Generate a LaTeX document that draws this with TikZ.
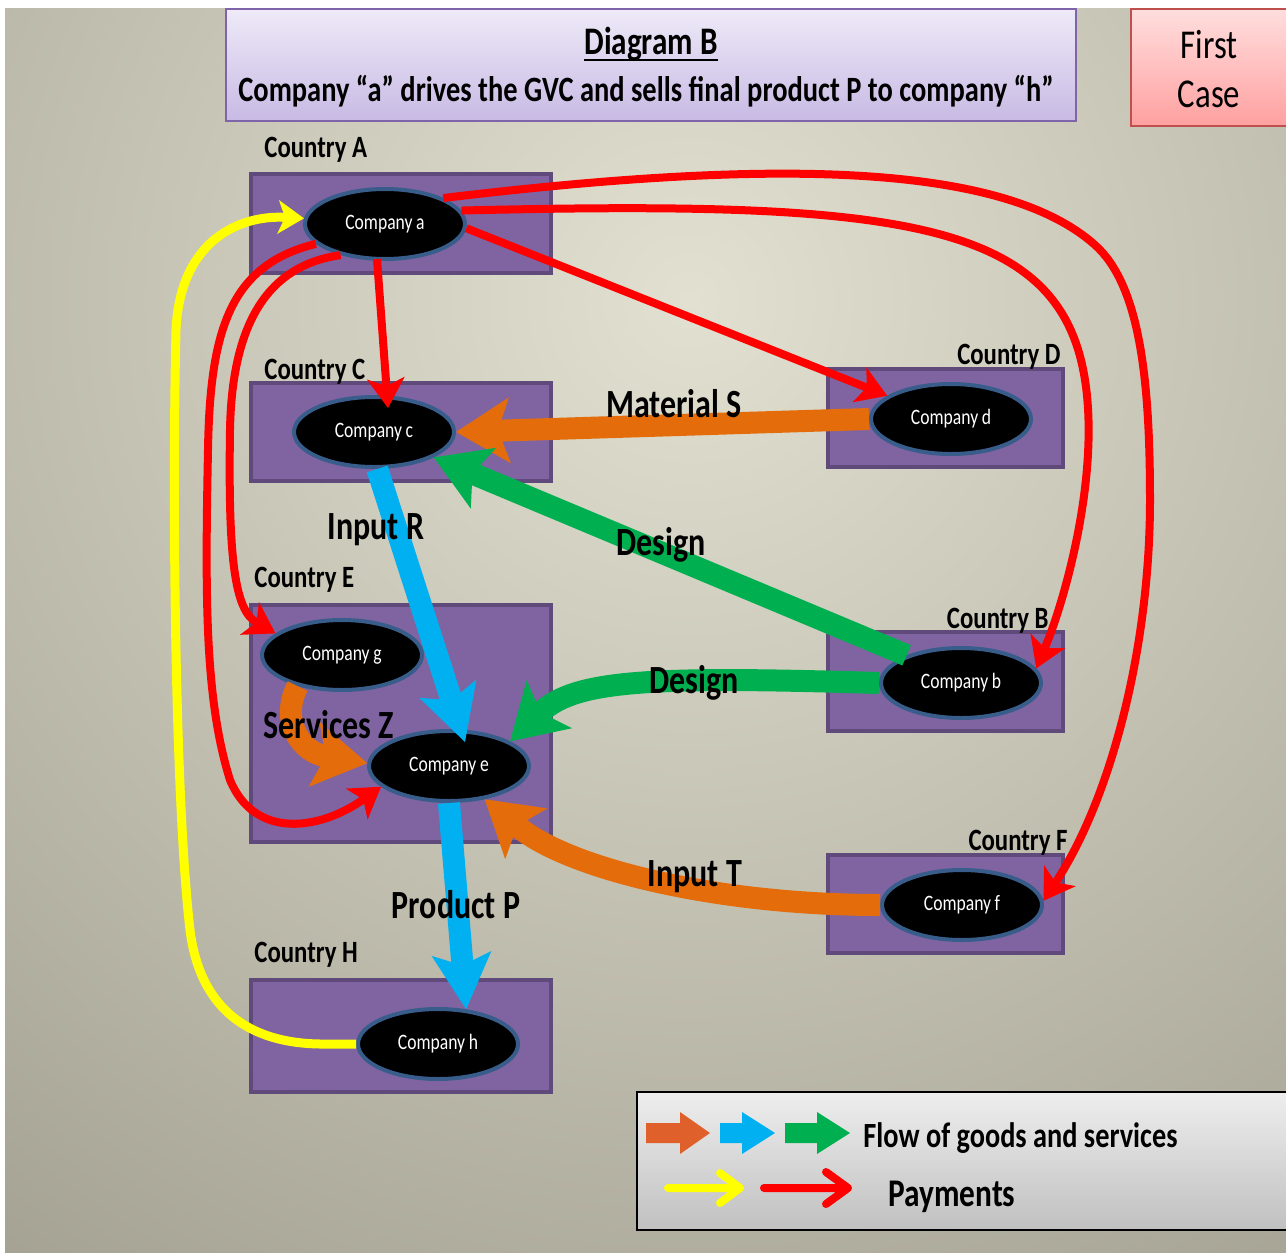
\documentclass[tikz,border=0pt]{standalone}
\usepackage{fontspec}
\setmainfont{Carlito}[FakeStretch=0.8]
\usetikzlibrary{arrows.meta,shapes.geometric,calc}

\definecolor{bglight}{RGB}{226,224,208}
\definecolor{bgdark}{RGB}{112,109,94}
\definecolor{boxfill}{RGB}{128,100,162}
\definecolor{boxline}{RGB}{96,74,123}
\definecolor{ringline}{RGB}{56,93,138}
\definecolor{flowor}{RGB}{228,108,10}
\definecolor{legor}{RGB}{224,96,44}
\definecolor{flowbl}{RGB}{0,176,240}
\definecolor{flowgr}{RGB}{0,176,80}
\definecolor{payred}{RGB}{255,0,0}
\definecolor{payyel}{RGB}{255,255,0}
\definecolor{ttltop}{RGB}{238,234,248}
\definecolor{ttlbot}{RGB}{200,186,228}
\definecolor{ttlline}{RGB}{128,100,170}
\definecolor{casetop}{RGB}{255,222,222}
\definecolor{casebot}{RGB}{255,160,160}
\definecolor{caseline}{RGB}{192,80,77}
\definecolor{legtop}{RGB}{238,238,238}
\definecolor{legbot}{RGB}{192,192,192}

\begin{document}
\begin{tikzpicture}[x=0.5pt,y=-0.5pt,
  country/.style={draw=boxline, line width=2pt, fill=boxfill},
  firm/.style={ellipse, draw=ringline, line width=2pt, fill=black,
    minimum width=80pt, minimum height=35pt, inner sep=0pt, text=white,
    font=\fontsize{11}{13}\selectfont, execute at begin node={\spaceskip=1.8pt\relax}},
  ctry/.style={font=\bfseries\fontsize{15.5}{18}\selectfont, inner sep=0pt},
  flowlabel/.style={font=\bfseries\fontsize{20}{24}\selectfont, inner sep=0pt},
  flowo/.style={draw=flowor, line width=11pt,
    -{Stealth[length=27pt,width=33pt,inset=6pt,line width=0pt,fill=flowor]}},
  flowb/.style={draw=flowbl, line width=11pt,
    -{Stealth[length=28pt,width=30pt,inset=6pt,line width=0pt,fill=flowbl]}},
  flowg/.style={draw=flowgr, line width=11pt,
    -{Stealth[length=27pt,width=33pt,inset=6pt,line width=0pt,fill=flowgr]}},
  pay/.style={draw=payred, line width=4pt,
    -{Stealth[length=15pt,width=19pt,inset=4pt,line width=0pt,fill=payred]}},
  payy/.style={draw=payyel, line width=4.5pt,
    -{Stealth[length=13pt,width=17pt,inset=3.5pt,line width=0pt,fill=payyel]}},
]
\useasboundingbox (0,0) rectangle (1286,1253);

% backdrop
\fill[white] (0,0) rectangle (1286,1253);
\begin{scope}
  \clip (5,8) rectangle (1286,1253);
  \shade[inner color=bglight, outer color=bgdark] (690,300) circle[radius=2200];
\end{scope}

% heading panels
\path[draw=ttlline, line width=1pt, top color=ttltop, bottom color=ttlbot]
  (226,9) rectangle (1076,121);
\node[font=\bfseries\fontsize{19.5}{22}\selectfont, inner sep=0pt] (dgm) at (651,44) {Diagram B};
\draw[line width=1pt] ($(dgm.base west)+(0,6)$) -- ($(dgm.base east)+(0,6)$);
\node[font=\bfseries\fontsize{17.8}{21}\selectfont, inner sep=0pt] (sub) at (646,91)
  {Company “a” drives the GVC and sells final product P to company “h”};

\path[draw=caseline, line width=1pt, top color=casetop, bottom color=casebot]
  (1131,9) rectangle (1292,126);
\node[font=\fontsize{20.5}{24}\selectfont, inner sep=0pt] (first) at (1209,45) {First};
\node[font=\fontsize{20.5}{24}\selectfont, inner sep=0pt] (case) at (1209,94) {Case};

% countries
\draw[country] (251,174) rectangle (551,273);
\draw[country] (251,383) rectangle (551,481);
\draw[country] (828,369) rectangle (1063,467);
\draw[country] (251,605) rectangle (551,842);
\draw[country] (828,632) rectangle (1063,731);
\draw[country] (828,855) rectangle (1063,953);
\draw[country] (251,980) rectangle (551,1092);

\node[ctry, anchor=west] (lA) at (264,150) {Country A};
\node[ctry, anchor=west] (lC) at (264,372) {Country C};
\node[ctry, anchor=east] (lD) at (1061,357) {Country D};
\node[ctry, anchor=west] (lE) at (254,580) {Country E};
\node[ctry, anchor=east] (lB) at (1049,621) {Country B};
\node[ctry, anchor=east] (lF) at (1068,843) {Country F};
\node[ctry, anchor=west] (lH) at (254,955) {Country H};

% companies
\node[firm] (a) at (385,224) {Company a};
\node[firm] (c) at (374,432) {Company c};
\node[firm] (d) at (951,419) {Company d};
\node[firm] (g) at (342,655) {Company g};
\node[firm] (e) at (449,766) {Company e};
\node[firm] (b) at (961,683) {Company b};
\node[firm] (f) at (962,905) {Company f};
\node[firm] (h) at (438,1044) {Company h};

% payments
\draw[payy] (h.west) -- (320,1044) .. controls (250,1043) and (200,1010) .. (190,930)
  .. controls (175,800) and (172,500) .. (176,330) .. controls (180,240) and (240,215) .. (a.176);
\draw[pay] (a.-3) -- (d.160);
\draw[pay] ($(a)+(-8,35)$) -- ($(c)+(14,-24)$);
\draw[pay] (a.10) .. controls (900,200) and (1060,220) .. (1085,380)
  .. controls (1100,476) and (1065,600) .. (b.11);
\draw[pay] (a.24) .. controls (760,160) and (1000,160) .. (1095,245)
  .. controls (1140,285) and (1150,380) .. (1150,500)
  .. controls (1150,650) and (1110,800) .. (f.3);
\draw[pay] (a.196) .. controls (230,265) and (210,330) .. (208,450)
  .. controls (205,600) and (205,700) .. (230,780) .. controls (255,840) and (320,830) .. (e.197);
\draw[pay] (a.215) .. controls (270,265) and (232,320) .. (230,430)
  .. controls (228,560) and (235,610) .. (g.162);

% goods and services
\draw[flowo] (d.west) -- (c.east);
\draw[flowb] (c.-85) -- ($(e)+(16,-24)$);
\draw[flowb] (e.south) -- (h.51);
\draw[flowg] (b.153) -- (c.-23);
\draw[flowg] (b.west) .. controls (650,676) and (575,680) .. (e.22);
\draw[flowo] (f.west) .. controls (720,905) and (570,870) .. (e.-43);
\draw[flowo] (g.-145) .. controls (280,720) and (300,752) .. (e.178);

\node[flowlabel] (mS) at (674,404) {Material S};
\node[flowlabel] (iR) at (376,530) {Input R};
\node[flowlabel] (dU) at (661,545) {Design};
\node[flowlabel] (dL) at (694,683) {Design};
\node[flowlabel] (sZ) at (329,725) {Services Z};
\node[flowlabel] (iT) at (695,877) {Input T};
\node[flowlabel] (pP) at (456,905) {Product P};

% key
\path[draw=black, line width=1pt, top color=legtop, bottom color=legbot]
  (637,1092) rectangle (1292,1230);
\fill[legor] (646,1123) -- (680,1123) -- (680,1112) -- (710,1133) -- (680,1154) -- (680,1143) -- (646,1143) -- cycle;
\fill[flowbl] (720,1123) -- (742,1123) -- (742,1112) -- (775,1133) -- (742,1154) -- (742,1143) -- (720,1143) -- cycle;
\fill[flowgr] (785,1123) -- (817,1123) -- (817,1112) -- (850,1133) -- (817,1154) -- (817,1143) -- (785,1143) -- cycle;
\draw[payyel, line width=4pt, line cap=round, line join=round]
  (668,1188) -- (740,1188) (720,1173) -- (740,1188) -- (720,1203);
\draw[payred, line width=4pt, line cap=round, line join=round]
  (764,1188) -- (848,1188) (826,1172) -- (848,1188) -- (826,1204);
\node[font=\bfseries\fontsize{17.7}{20}\selectfont, inner sep=0pt, anchor=west] (kflow) at (863,1138)
  {Flow of goods and services};
\node[font=\bfseries\fontsize{19.6}{22}\selectfont, inner sep=0pt, anchor=west] (kpay) at (888,1197)
  {Payments};
\end{tikzpicture}
\end{document}
